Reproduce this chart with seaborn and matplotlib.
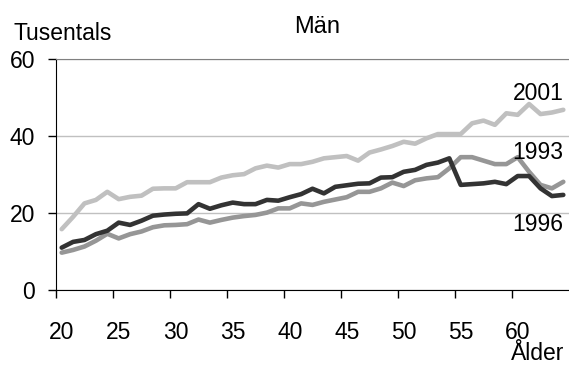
import numpy as np
import pandas as pd
import matplotlib
matplotlib.use('Agg')
import matplotlib.pyplot as plt
import seaborn as sns

# ages 20-64
ages = list(range(20, 65))

men_2001 = [15.8, 19.0, 22.5, 23.4, 25.5, 23.6, 24.2, 24.5, 26.3, 26.4,
            26.4, 28.0, 28.0, 28.0, 29.2, 29.8, 30.1, 31.6, 32.3, 31.8,
            32.7, 32.7, 33.3, 34.2, 34.5, 34.8, 33.6, 35.7, 36.5, 37.4,
            38.5, 38.0, 39.4, 40.5, 40.5, 40.5, 43.3, 44.0, 42.9, 45.9,
            45.5, 48.3, 45.7, 46.1, 46.8]

men_1993 = [9.7, 10.4, 11.3, 12.8, 14.6, 13.4, 14.5, 15.2, 16.3, 16.8,
            16.9, 17.1, 18.3, 17.5, 18.2, 18.8, 19.2, 19.5, 20.1, 21.2,
            21.2, 22.5, 22.1, 22.9, 23.5, 24.1, 25.5, 25.5, 26.4, 27.9,
            27.0, 28.5, 29.0, 29.3, 31.6, 34.5, 34.5, 33.6, 32.7, 32.7,
            34.5, 30.7, 27.3, 26.4, 28.1]

men_1996 = [11.0, 12.5, 13.0, 14.5, 15.4, 17.5, 16.9, 18.0, 19.3, 19.6,
            19.8, 19.9, 22.3, 21.1, 22.0, 22.7, 22.3, 22.3, 23.4, 23.2,
            24.1, 24.9, 26.3, 25.1, 26.8, 27.2, 27.6, 27.7, 29.2, 29.3,
            30.7, 31.2, 32.5, 33.1, 34.2, 27.3, 27.5, 27.7, 28.1, 27.5,
            29.6, 29.6, 26.4, 24.4, 24.7]

years = ['2001', '1993', '1996']
colors = {'2001': '#c0c0c0', '1993': '#969696', '1996': '#333333'}

df = pd.DataFrame({'Ålder': ages * 3,
                   'Antal': men_2001 + men_1993 + men_1996,
                   'År': ['2001'] * 45 + ['1993'] * 45 + ['1996'] * 45})

sns.set_style('white')
plt.rcParams['font.family'] = ['Liberation Sans', 'DejaVu Sans']
plt.rcParams['text.color'] = 'black'
plt.rcParams['xtick.color'] = 'black'
plt.rcParams['ytick.color'] = 'black'
fs = 16.5

fig = plt.figure(figsize=(5.69, 3.65), dpi=100)
ax = fig.add_axes([56 / 569, (365 - 290) / 365, 1 - 56 / 569, (290 - 59) / 365])

sns.lineplot(data=df, x='Ålder', y='Antal', hue='År', hue_order=years,
             palette=colors, linewidth=3.3, legend=False, ax=ax)

ax.set_xlim(19.5, 64.5)
ax.set_ylim(0, 60)

# y axis
ax.set_yticks([0, 20, 40, 60])
ax.set_yticklabels(['0', '20', '40', '60'], fontsize=fs, color='black')
ax.tick_params(axis='y', direction='out', length=6, width=1, color='black', pad=9, left=True)
ax.grid(axis='y', color='#c0c0c0', linewidth=1)
ax.set_axisbelow(True)

# x axis: ticks between categories, labels at categories
ax.set_xticks(np.arange(19.5, 64.5, 5))
ax.set_xticklabels([])
ax.set_xticks(np.arange(20, 61, 5), minor=True)
ax.set_xticklabels([str(a) for a in range(20, 61, 5)], minor=True, fontsize=fs, color='black')
ax.tick_params(axis='x', which='major', direction='out', length=6, width=1, color='black', bottom=True)
ax.tick_params(axis='x', which='minor', length=0, pad=22)

ax.spines['right'].set_visible(False)
ax.spines['top'].set_color('#808080')
ax.spines['left'].set_color('black')
ax.spines['bottom'].set_color('black')
ax.set_xlabel('')
ax.set_ylabel('')

# series labels
ax.text(61.8, 51, '2001', fontsize=fs, ha='center', va='center')
ax.text(61.8, 35.6, '1993', fontsize=fs, ha='center', va='center')
ax.text(61.8, 16.9, '1996', fontsize=fs, ha='center', va='center')

fig.text(317 / 569, 1 - 27 / 365, 'Män', fontsize=17, ha='center', va='center')
fig.text(14 / 569, 1 - 33 / 365, 'Tusentals', fontsize=fs, ha='left', va='center')
fig.text(564 / 569, 1 - 353 / 365, 'Ålder', fontsize=fs, ha='right', va='center')

fig.savefig('out.png', dpi=100)
